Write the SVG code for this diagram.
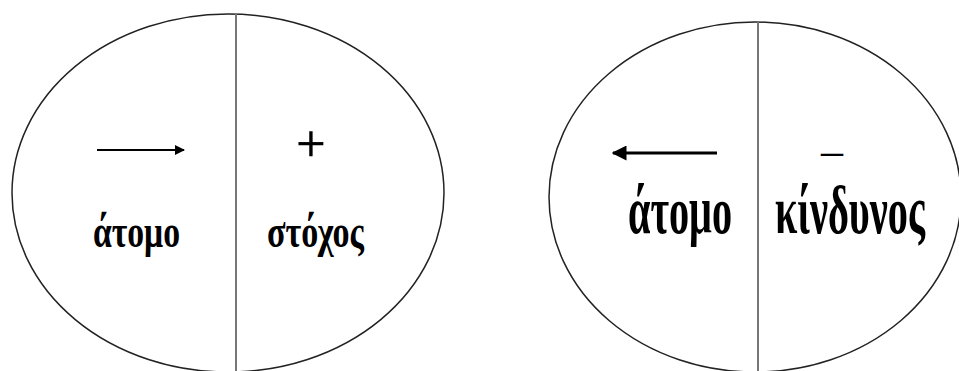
<svg xmlns="http://www.w3.org/2000/svg" width="959" height="371" viewBox="0 0 959 371">
<style>
.ell{fill:#fff;stroke:#222;stroke-width:1.5}
.div{stroke:#777;stroke-width:2}
.t{font-family:"Liberation Serif","Times New Roman",serif;font-weight:bold;fill:#000}
.s{font-family:"Liberation Serif","Times New Roman",serif;font-weight:normal;fill:#000}
.ar{stroke:#000;fill:none}
</style>
<defs>
<marker id="ah" viewBox="0 0 10 10" refX="9" refY="5" markerWidth="5" markerHeight="5" orient="auto-start-reverse" markerUnits="strokeWidth">
<path d="M0,0 L10,5 L0,10 z" fill="#000"/>
</marker>
</defs>
<rect width="959" height="371" fill="#fff"/>
<g id="node-left">
<ellipse class="ell" cx="228" cy="193" rx="216" ry="179"/>
<line class="div" x1="236" y1="14" x2="236" y2="371"/>
<text class="t" x="93" y="247" font-size="46" textLength="87" lengthAdjust="spacingAndGlyphs">άτομο</text>
<text class="t" x="267" y="247" font-size="46" textLength="97" lengthAdjust="spacingAndGlyphs">στόχος</text>
<text class="s" x="311" y="161" font-size="52" text-anchor="middle" stroke="#000" stroke-width="0.6">+</text>
</g>
<g id="node-right">
<ellipse class="ell" cx="755" cy="197" rx="206" ry="175"/>
<line class="div" x1="758" y1="22" x2="758" y2="371"/>
<text class="t" x="628" y="233" font-size="68" textLength="104" lengthAdjust="spacingAndGlyphs">άτομο</text>
<text class="t" x="775" y="233" font-size="68" textLength="150" lengthAdjust="spacingAndGlyphs">κίνδυνος</text>
<text class="s" x="832" y="165" font-size="44" text-anchor="middle">–</text>
</g>
<g id="connectors">
<line class="ar" x1="97" y1="150" x2="184" y2="150" stroke-width="2" marker-end="url(#ah)"/>
<line class="ar" x1="717" y1="153" x2="613" y2="153" stroke-width="3" marker-end="url(#ah)"/>
</g>
</svg>
